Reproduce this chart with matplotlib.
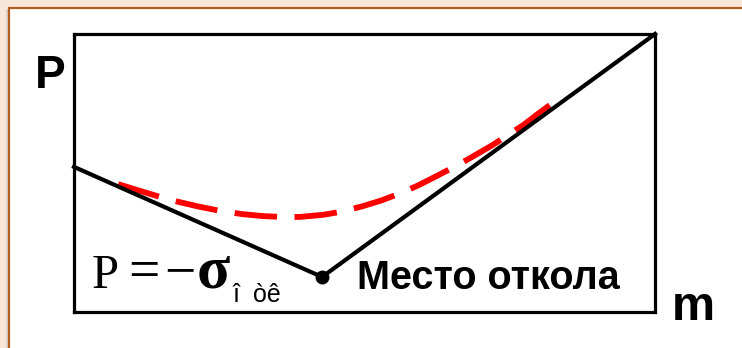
import matplotlib
matplotlib.use("Agg")
import matplotlib.pyplot as plt
from matplotlib.patches import Rectangle

# Piecewise load line P(m): falls to the spall point, then rises
line_m = [0.0, 0.427, 1.0]
line_p = [0.522, 0.126, 1.0]

# Smooth trend curve (dashed red)
curve_m = [0.076, 0.110, 0.148, 0.180, 0.215, 0.251, 0.290, 0.325, 0.358,
           0.389, 0.430, 0.458, 0.496, 0.530, 0.565, 0.592, 0.625, 0.659,
           0.687, 0.720, 0.747, 0.773, 0.800, 0.831]
curve_p = [0.460, 0.438, 0.414, 0.396, 0.379, 0.364, 0.352, 0.345, 0.342,
           0.342, 0.350, 0.360, 0.380, 0.402, 0.430, 0.455, 0.490, 0.527,
           0.560, 0.600, 0.637, 0.672, 0.715, 0.763]

W, H = 742, 348
fig = plt.figure(figsize=(W / 100, H / 100), dpi=100)
fig.patch.set_facecolor("#f8e6d8")


def fx(px):
    return px / W


def fy(py):
    return 1 - py / H


# White panel with brown rule on the left and top
fig.add_artist(Rectangle((fx(6), 0), 3 / W, fy(9), transform=fig.transFigure,
                         facecolor="#d9d2cc", edgecolor="none", zorder=0))
fig.add_artist(Rectangle((fx(9), -0.1), 1.2, fy(8) + 0.1, transform=fig.transFigure,
                         facecolor="white", edgecolor="#b0601e", linewidth=1.6,
                         zorder=0))

ax = fig.add_axes([fx(74), fy(312), fx(655) - fx(74), fy(34) - fy(312)])
ax.set_xlim(0, 1)
ax.set_ylim(0, 1)
ax.set_facecolor("white")
for s in ax.spines.values():
    s.set_linewidth(2.3)
    s.set_color("black")
ax.set_xticks([])
ax.set_yticks([])

ax.plot(curve_m, curve_p, color="#ff0000", lw=4.2, dashes=(7.3, 3.0),
        solid_capstyle="butt", dash_capstyle="butt", zorder=2)
ax.plot(line_m, line_p, color="black", lw=3.0, solid_joinstyle="miter",
        clip_on=False, zorder=3)
ax.plot([line_m[1]], [line_p[1]], "o", color="black", ms=9, zorder=4)

# Axis letters
fig.text(fx(35), fy(88), "P", fontsize=33, fontweight="bold",
         family="Liberation Sans", ha="left", va="baseline")
fig.text(fx(672), fy(320), "m", fontsize=35, fontweight="bold",
         family="Liberation Sans", ha="left", va="baseline")

# Annotation of the spall point
fig.text(fx(357), fy(289), "Место откола", fontsize=28.5, fontweight="bold",
         family="Liberation Sans", ha="left", va="baseline")

# Formula P = -sigma_sub
fig.text(fx(92), fy(288), "P", fontsize=35, family="Liberation Serif",
         ha="left", va="baseline")
fig.text(fx(128), fy(288), "=", fontsize=40, family="Liberation Serif",
         ha="left", va="baseline")
fig.text(fx(164), fy(288), "\u2212", fontsize=40, family="Liberation Serif",
         ha="left", va="baseline")
fig.text(fx(197), fy(288), "\u03c3", fontsize=44, fontweight="bold",
         family="Liberation Serif", ha="left", va="baseline")
fig.text(fx(233), fy(302), "î  òê", fontsize=18,
         family="Liberation Sans", ha="left", va="baseline")

fig.savefig("out.png", dpi=100, facecolor=fig.get_facecolor())
